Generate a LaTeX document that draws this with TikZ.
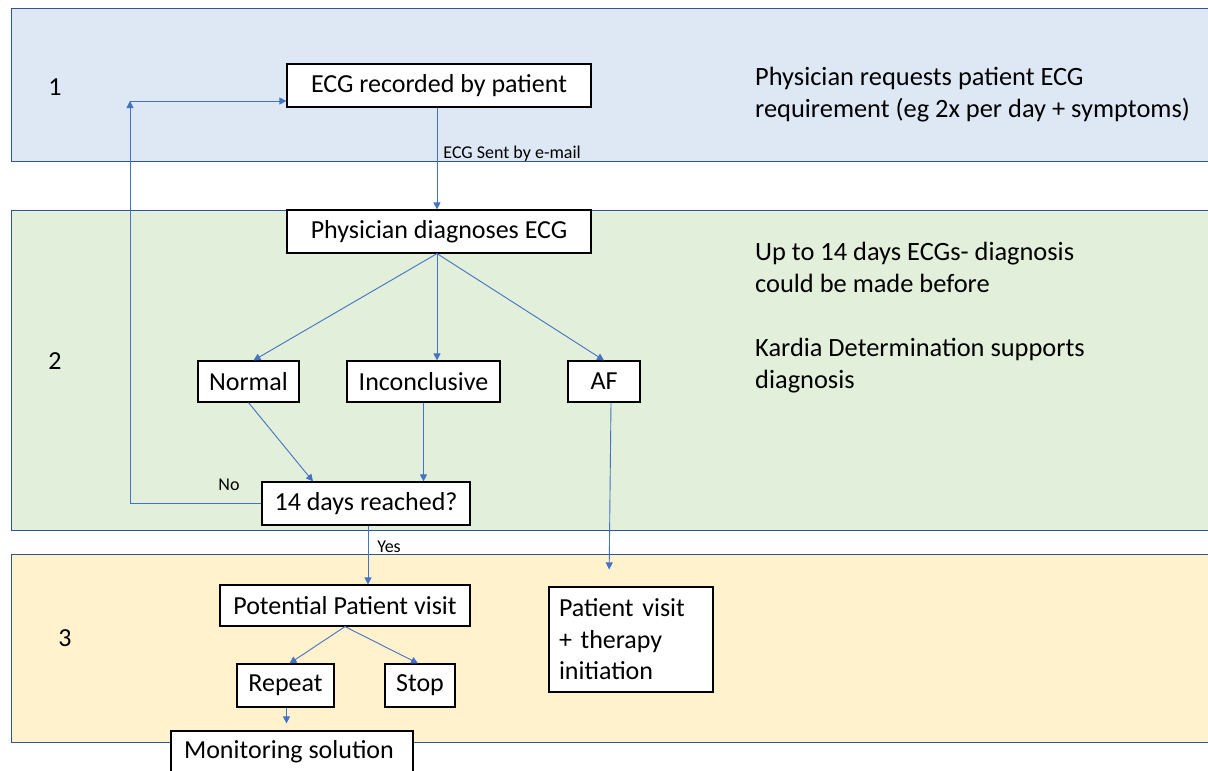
\documentclass[tikz,border=0pt]{standalone}
\usepackage{fontspec}
\setmainfont{Carlito}
\usetikzlibrary{arrows.meta}
\definecolor{bandblue}{HTML}{DEE8F5}
\definecolor{bandgreen}{HTML}{E2EFDA}
\definecolor{bandorange}{HTML}{FFF2CC}
\definecolor{bandline}{HTML}{2F5597}
\definecolor{flowline}{HTML}{4472C4}
\begin{document}
\begin{tikzpicture}[x=1pt,y=-1pt,
  band/.style={draw=bandline, line width=1pt},
  box/.style={draw=black, fill=white, line width=1.2pt, inner sep=0pt,
    font=\fontsize{26}{30}\selectfont},
  flow/.style={draw=flowline, line width=0.9pt,
    -{Triangle[width=7pt,length=7pt]}},
  small/.style={font=\fontsize{18}{20}\selectfont, inner sep=0pt},
  note/.style={font=\fontsize{26.4}{32}\selectfont, align=left, anchor=west, inner sep=0pt},
  stage/.style={font=\fontsize{26}{30}\selectfont, inner sep=0pt}]
\useasboundingbox (0,0) rectangle (1208,771);
\clip (0,0) rectangle (1208,771);

% stage bands
\draw[band, fill=bandblue]   (11,8)   rectangle (1220,161);
\draw[band, fill=bandgreen]  (11,210) rectangle (1220,530);
\draw[band, fill=bandorange] (11,554) rectangle (1220,742);

\node[stage] (s1) at (55,87)  {1};
\node[stage] (s2) at (55,361) {2};
\node[stage] (s3) at (65,638) {3};

% notes on the right
\node[note] (n1) at (755,95) {Physician requests patient ECG\\requirement (eg 2x per day + symptoms)};
\node[note] (n2) at (755,318) {Up to 14 days ECGs- diagnosis\\could be made before\\[32pt]Kardia Determination supports\\diagnosis};

% process boxes
\node[box, minimum width=304pt, minimum height=43pt] (rec)  at (439,85.5)  {ECG recorded by patient};
\node[box, minimum width=304pt, minimum height=43pt] (diag) at (439,231.5) {Physician diagnoses ECG};
\node[box, minimum width=101pt, minimum height=41pt] (norm) at (248.5,381.5) {Normal};
\node[box, minimum width=153pt, minimum height=41pt] (inc)  at (423.5,381.5) {Inconclusive};
\node[box, minimum width=72pt,  minimum height=41pt] (af)   at (604,381.5)   {AF};
\node[box, minimum width=208pt, minimum height=43pt] (days) at (366,503.5)   {14 days reached?};
\node[box, minimum width=250pt, minimum height=41pt] (pot)  at (345,605.5)   {Potential Patient visit};
\node[box, minimum width=97pt,  minimum height=43pt] (rep)  at (285.5,685.5) {Repeat};
\node[box, minimum width=70pt,  minimum height=43pt] (stop) at (420,685.5)   {Stop};
\node[box, minimum height=105pt, text width=144pt, inner xsep=10pt, align=left,
      font=\fontsize{26}{31.5}\selectfont] (pv) at (631,639.5)
      {Patient visit\\+ therapy\\initiation};
\node[box, minimum width=242pt, minimum height=60pt] (mon) at (292,761) {};
\node[font=\fontsize{26}{30}\selectfont, inner sep=0pt] (monl) at (289,752) {Monitoring solution};

% connectors
\draw[flow] (rec.south -| 437,0) -- (diag.north -| 437,0)
  node[small, pos=0.45, right=6pt] (sent) {ECG Sent by e-mail};
\draw[flow] (diag.south -| 437,0) -- ([xshift=5pt]norm.north);
\draw[flow] (diag.south -| 437,0) -- (inc.north -| 437,0);
\draw[flow] (diag.south -| 437,0) -- (af.north);
\draw[flow] (norm.south) -- ([xshift=-53pt]days.north);
\draw[flow] (inc.south) -- (inc.south |- days.north);

\coordinate (loop) at (130,101);
\draw[flow] (days.west) -| (loop);
\draw[flow] (loop) -- (loop -| rec.west);
\node[small] (no) at (229,485) {No};

\draw[flow] ([xshift=2pt]days.south) -- ([xshift=2pt]days.south |- pot.north);
\node[small] (yes) at (389,547) {Yes};

\draw[flow] (pot.south) -- ([xshift=4pt]rep.north);
\draw[flow] (pot.south) -- ([xshift=-2pt]stop.north);
\draw[flow, shorten >=7pt] ([xshift=1pt]rep.south) -- ([xshift=1pt]rep.south |- mon.north);
\draw[flow, shorten >=17pt] ([xshift=7pt]af.south) -- ([xshift=5pt]af.south |- pv.north);
\end{tikzpicture}
\end{document}
